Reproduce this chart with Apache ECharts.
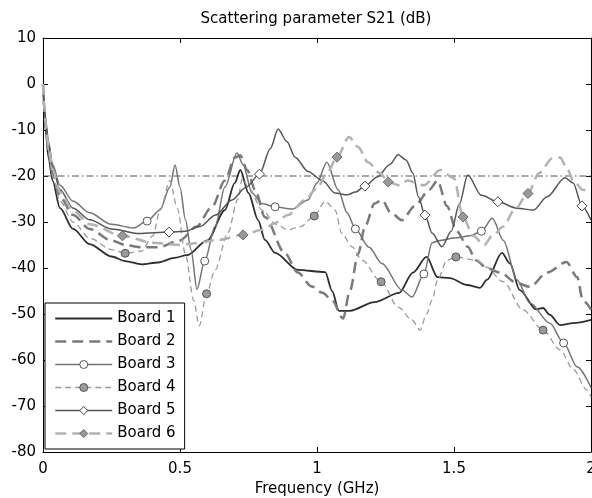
<!doctype html>
<html>
 <head>
  <meta charset="UTF-8">
  <script src="https://cdn.jsdelivr.net/npm/echarts@6.0.0/dist/echarts.min.js"></script>
  <title>Scattering parameter S21</title>
  <style>
   html, body { margin: 0; padding: 0; background: #fff; }
  </style>
 </head>
 <body>
  <div id="chart" style="width: 592px; height: 498px; margin: 0"></div>
 <script type="text/javascript">
    // frequency (GHz), S21 (dB)
    var board1 = [[0,0],[0.005,-6],[0.01,-10.5],[0.02,-16],[0.035,-21],[0.062,-27],[0.11,-31.5],[0.17,-34.8],[0.25,-37.5],[0.3,-38.5],[0.36,-39.2],[0.42,-38.8],[0.48,-37.8],[0.525,-37.2],[0.6,-34],[0.664,-27.4],[0.7,-21.5],[0.72,-18.7],[0.75,-23.7],[0.785,-29.6],[0.81,-33.9],[0.847,-36.7],[0.93,-40.4],[1.03,-40.9],[1.055,-45],[1.08,-49.3],[1.12,-49.3],[1.21,-47.4],[1.3,-45.4],[1.35,-41],[1.4,-37.6],[1.44,-42],[1.485,-42.2],[1.547,-43.7],[1.595,-44.3],[1.62,-42.6],[1.675,-36.7],[1.704,-39],[1.74,-44.8],[1.8,-49],[1.825,-48.7],[1.85,-50.2],[1.887,-52.4],[1.935,-52],[2,-51.3]];
    var board2 = [[0,0],[0.005,-5.5],[0.01,-9.5],[0.02,-14.5],[0.035,-19.5],[0.062,-24.5],[0.11,-28.5],[0.17,-31.5],[0.25,-34],[0.3,-35],[0.36,-35.5],[0.42,-35.5],[0.5,-34],[0.56,-31],[0.617,-26.7],[0.664,-21],[0.7,-16],[0.72,-15.5],[0.745,-18.7],[0.774,-23],[0.81,-28.9],[0.883,-36.8],[0.93,-41],[0.98,-44],[1.02,-45.4],[1.055,-47],[1.095,-51],[1.12,-45],[1.15,-37],[1.175,-31],[1.21,-26],[1.237,-25.2],[1.27,-28],[1.31,-29.6],[1.357,-26.5],[1.41,-23],[1.44,-21],[1.474,-26.5],[1.51,-32],[1.55,-35.4],[1.58,-38.3],[1.62,-40],[1.668,-41],[1.73,-43.3],[1.777,-44.1],[1.84,-41],[1.91,-38.7],[1.95,-42],[1.97,-47],[2,-49]];
    var board3 = [[0,0],[0.005,-4.5],[0.01,-8],[0.02,-12.5],[0.035,-17.5],[0.062,-22],[0.11,-25.5],[0.17,-28],[0.25,-30.5],[0.33,-31.3],[0.38,-29.8],[0.427,-27.4],[0.463,-22.4],[0.482,-17.6],[0.5,-22.5],[0.52,-29.5],[0.54,-36],[0.562,-44.6],[0.59,-38.5],[0.628,-31],[0.664,-22.4],[0.708,-15],[0.73,-17.5],[0.763,-23.7],[0.8,-26],[0.847,-26.7],[0.91,-27.2],[0.967,-25.2],[1,-21.5],[1.036,-17],[1.077,-23],[1.11,-28],[1.14,-31.5],[1.19,-35.5],[1.237,-39],[1.31,-44.8],[1.347,-46.3],[1.39,-41.3],[1.42,-34.5],[1.45,-34],[1.5,-33.5],[1.56,-33],[1.6,-32],[1.64,-29.2],[1.68,-34],[1.73,-42.6],[1.777,-47.6],[1.85,-52],[1.9,-56.3],[1.95,-61.5],[2,-66]];
    var board4 = [[0,0],[0.005,-6],[0.01,-10],[0.02,-15],[0.035,-20],[0.062,-25.5],[0.11,-30],[0.17,-33.5],[0.25,-36],[0.3,-36.8],[0.36,-36.3],[0.4,-33],[0.43,-27],[0.463,-21],[0.49,-27],[0.52,-37],[0.55,-47],[0.57,-52.6],[0.597,-45.6],[0.628,-40.4],[0.675,-32.4],[0.71,-25.2],[0.728,-20.5],[0.75,-22.5],[0.8,-27.4],[0.85,-30.5],[0.894,-31.7],[0.94,-31],[0.99,-28.7],[1.03,-25.5],[1.066,-27.4],[1.09,-32.4],[1.128,-35.4],[1.164,-38.3],[1.234,-43],[1.296,-48.5],[1.347,-51.3],[1.376,-53.5],[1.4,-50],[1.42,-47],[1.44,-42.6],[1.474,-38.3],[1.507,-37.6],[1.58,-38.3],[1.617,-39.8],[1.68,-43],[1.75,-49],[1.825,-53.5],[1.887,-57.8],[1.935,-62],[1.985,-66.5],[2,-68]];
    var board5 = [[0,0],[0.005,-5],[0.01,-8.5],[0.02,-13],[0.035,-18],[0.062,-23],[0.11,-27],[0.17,-29.5],[0.25,-31.5],[0.35,-32.5],[0.46,-32.2],[0.52,-32],[0.573,-31],[0.63,-28.5],[0.69,-25.2],[0.74,-22.5],[0.79,-19.6],[0.83,-14],[0.858,-9.8],[0.89,-12.5],[0.92,-15.9],[0.967,-19],[1.02,-21],[1.066,-23.7],[1.11,-24.1],[1.14,-23.5],[1.175,-22.2],[1.22,-20.2],[1.266,-17.5],[1.296,-15.4],[1.325,-16.5],[1.35,-19.4],[1.37,-24.5],[1.394,-28.5],[1.42,-32.4],[1.456,-35.4],[1.49,-32],[1.52,-26],[1.55,-19.8],[1.6,-24.2],[1.66,-25.6],[1.73,-27],[1.79,-27.4],[1.84,-24.5],[1.905,-20.4],[1.935,-21.5],[1.967,-26.5],[2,-29.6]];
    var board6 = [[0,0],[0.005,-5.5],[0.01,-9],[0.02,-13.5],[0.035,-18.5],[0.062,-23.5],[0.11,-27.5],[0.17,-30.5],[0.29,-33],[0.4,-34.5],[0.5,-35],[0.555,-34.6],[0.64,-33.9],[0.73,-32.8],[0.8,-31.7],[0.847,-30.2],[0.894,-28.5],[0.956,-25.2],[1,-22.6],[1.04,-19],[1.073,-15.9],[1.117,-11.5],[1.15,-13.7],[1.186,-17],[1.23,-19.4],[1.26,-21.3],[1.3,-22],[1.33,-21],[1.39,-22],[1.45,-18.7],[1.5,-20.5],[1.533,-28.9],[1.57,-33],[1.61,-35],[1.64,-33],[1.68,-31],[1.72,-27.4],[1.77,-23.8],[1.81,-19.4],[1.86,-16.1],[1.887,-16],[1.91,-18],[1.935,-20.9],[1.97,-23],[2,-23.7]];
    var refLine = [[0,-20],[2,-20]];

    // frequencies where a marker is drawn
    var marks3 = [0.38, 0.59, 0.847, 1.14, 1.39, 1.6, 1.9];
    var marks4 = [0.3, 0.597, 0.99, 1.234, 1.507, 1.825];
    var marks5 = [0.46, 0.79, 1.175, 1.394, 1.66, 1.967];
    var marks6 = [0.29, 0.73, 1.073, 1.26, 1.533, 1.77];

    var names = ['Board 1', 'Board 2', 'Board 3', 'Board 4', 'Board 5', 'Board 6'];
    var FONT = 'DejaVu Sans';

    function curve(name, data, marks, sym, size, line, fill, border) {
        return {
            name: name,
            type: 'line',
            data: data,
            smooth: 0.3,
            smoothMonotone: 'x',
            symbol: sym,
            showSymbol: true,
            showAllSymbol: true,
            symbolSize: function (v) { return marks.indexOf(v[0]) >= 0 ? size : 0; },
            lineStyle: line,
            itemStyle: { color: fill, borderColor: border, borderWidth: 1 },
            emphasis: { disabled: true },
            z: 3
        };
    }

    var myChart = echarts.init(document.getElementById('chart'));
    var axisLine = { show: true, onZero: false, lineStyle: { color: '#000', width: 1 } };
    var tick = { show: true, inside: true, length: 5, lineStyle: { color: '#000' } };

    myChart.setOption({
        animation: false,
        title: {
            text: 'Scattering parameter S21 (dB)',
            left: 311, top: 7, textAlign: 'center',
            textStyle: { fontSize: 15, fontWeight: 'normal', color: '#000', fontFamily: FONT }
        },
        grid: { left: 43, right: 1, top: 38, bottom: 46, containLabel: false, outerBoundsMode: 'none' },
        legend: {
            orient: 'vertical', left: 45, top: 303,
            padding: [8, 9, 8, 9],
            itemWidth: 57, itemHeight: 10, itemGap: 8,
            backgroundColor: '#fff', borderColor: '#000', borderWidth: 1, borderRadius: 0,
            textStyle: { fontSize: 15, color: '#000', fontFamily: FONT },
            selectedMode: false,
            data: [
                { name: names[0], itemStyle: { opacity: 0 }, lineStyle: { width: 1.8 } },
                { name: names[1], itemStyle: { opacity: 0 }, lineStyle: { width: 2.5 } },
                { name: names[2], itemStyle: { borderWidth: 1 }, lineStyle: { width: 1.5 } },
                { name: names[3], itemStyle: { borderWidth: 1 }, lineStyle: { width: 1.3 } },
                { name: names[4], itemStyle: { borderWidth: 1 }, lineStyle: { width: 1.5 } },
                { name: names[5], itemStyle: { borderWidth: 1 }, lineStyle: { width: 2.5 } }
            ]
        },
        xAxis: [{
            type: 'value', min: 0, max: 2, interval: 0.5, position: 'bottom',
            axisLine: axisLine, axisTick: tick, splitLine: { show: false },
            axisLabel: { color: '#000', fontSize: 15, fontFamily: FONT, margin: 10 },
            name: 'Frequency (GHz)', nameLocation: 'middle', nameGap: 30,
            nameTextStyle: { color: '#000', fontSize: 15, fontFamily: FONT }
        }, {
            type: 'value', min: 0, max: 2, interval: 0.5, position: 'top',
            axisLine: axisLine, axisTick: tick, splitLine: { show: false },
            axisLabel: { show: false }
        }],
        yAxis: [{
            type: 'value', min: -80, max: 10, interval: 10, position: 'left',
            axisLine: axisLine, axisTick: tick, splitLine: { show: false },
            axisLabel: { color: '#000', fontSize: 15, fontFamily: FONT, margin: 7 }
        }, {
            type: 'value', min: -80, max: 10, interval: 10, position: 'right',
            axisLine: axisLine, axisTick: tick, splitLine: { show: false },
            axisLabel: { show: false }
        }],
        series: [
            {
                name: 'ref', type: 'line', data: refLine, symbol: 'none',
                lineStyle: { color: '#555', width: 1, type: [7, 3, 1.5, 3] },
                emphasis: { disabled: true }, z: 2
            },
            curve(names[0], board1, [], 'circle', 0, { color: '#2e2e2e', width: 1.8 }, '#2e2e2e', '#2e2e2e'),
            curve(names[1], board2, [], 'circle', 0, { color: '#7a7a7a', width: 2.5, type: [11, 6] }, '#7a7a7a', '#7a7a7a'),
            curve(names[2], board3, marks3, 'circle', 8, { color: '#747474', width: 1.5 }, '#fff', '#555'),
            curve(names[3], board4, marks4, 'circle', 8, { color: '#9a9a9a', width: 1.3, type: [6, 4] }, '#9a9a9a', '#555'),
            curve(names[4], board5, marks5, 'diamond', 10, { color: '#555', width: 1.5 }, '#fff', '#444'),
            curve(names[5], board6, marks6, 'diamond', 10, { color: '#b2b2b2', width: 2.5, type: [11, 6] }, '#999', '#666')
        ]
    });
 </script>
 </body>
</html>
